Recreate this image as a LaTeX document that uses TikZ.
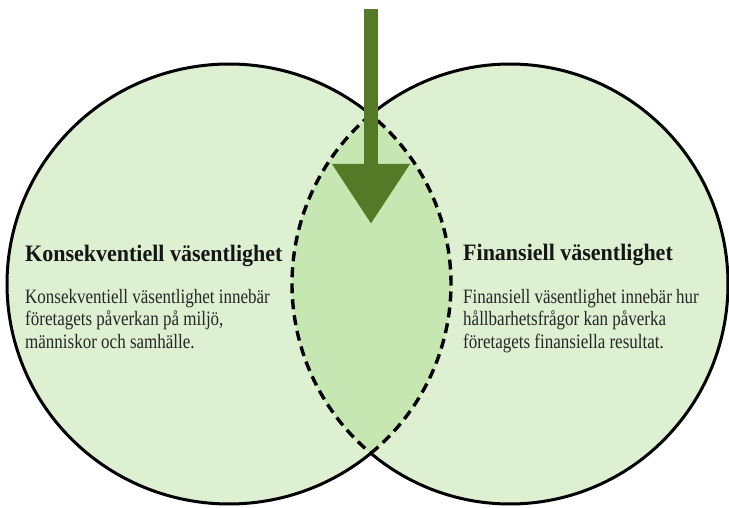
\documentclass[tikz,border=0pt]{standalone}
\usepackage{fontspec}
\setmainfont{Liberation Serif}
\usetikzlibrary{arrows.meta}
\definecolor{circfill}{HTML}{DDF0D2}
\definecolor{lensfill}{HTML}{C6E7B2}
\definecolor{arrowgreen}{HTML}{557A27}
\definecolor{headcol}{HTML}{151515}
\definecolor{bodycol}{HTML}{262626}
\newcommand{\tallhead}[1]{\scalebox{1}[1.07]{#1}}
\newcommand{\tallbody}[1]{\scalebox{1}[1.2]{#1}}
\tikzset{
  x=1pt, y=1pt,
  outline/.style={draw=black, line width=3pt, line cap=round},
  dashline/.style={draw=black, line width=3.4pt, dash pattern=on 10pt off 6pt},
  headtext/.style={anchor=base west, inner sep=0pt, text=headcol, font=\fontsize{22}{26}\selectfont\bfseries},
  bodytext/.style={anchor=base west, inner sep=0pt, text=bodycol, font=\fontsize{17}{22}\selectfont},
  bigarrow/.style={draw=arrowgreen, line width=14pt, -{Triangle[width=74pt,length=60pt]}, arrowgreen}
}
\begin{document}
\begin{tikzpicture}
\useasboundingbox (0,0) rectangle (729,507);
\coordinate (L) at (229,223);
\coordinate (R) at (510,223);
% fills
\fill[circfill] (L) ellipse[x radius=222, y radius=220];
\fill[circfill] (R) ellipse[x radius=218, y radius=220];
\begin{scope}
  \clip (L) ellipse[x radius=222, y radius=220];
  \fill[lensfill] (R) ellipse[x radius=218, y radius=220];
\end{scope}
% outer solid arcs
\draw[outline] ([shift={(50.3:222 and 220)}]L) arc[start angle=50.3, end angle=309.7, x radius=222, y radius=220];
\draw[outline] ([shift={(-129.7:218 and 220)}]R) arc[start angle=-129.7, end angle=129.7, x radius=218, y radius=220];
% dashed lens
\draw[dashline] ([shift={(-50.3:222 and 220)}]L) arc[start angle=-50.3, end angle=50.3, x radius=222, y radius=220];
\draw[dashline] ([shift={(129.7:218 and 220)}]R) arc[start angle=129.7, end angle=230.3, x radius=218, y radius=220];
% texts
\node[headtext] (lhead) at (25,246) {\tallhead{Konsekventiell väsentlighet}};
\node[bodytext] (lbody1) at (25,204) {\tallbody{Konsekventiell väsentlighet innebär}};
\node[bodytext] (lbody2) at (25,181.5) {\tallbody{företagets påverkan på miljö,}};
\node[bodytext] (lbody3) at (25,159) {\tallbody{människor och samhälle.}};
\node[headtext] (rhead) at (463,247) {\tallhead{Finansiell väsentlighet}};
\node[bodytext] (rbody1) at (463,204) {\tallbody{Finansiell väsentlighet innebär hur}};
\node[bodytext] (rbody2) at (463,181.5) {\tallbody{hållbarhetsfrågor kan påverka}};
\node[bodytext] (rbody3) at (463,159) {\tallbody{företagets finansiella resultat.}};
% arrow
\coordinate (arrowtop) at (371,498);
\coordinate (arrowtip) at (371,283);
\draw[bigarrow] (arrowtop) -- (arrowtip);
\end{tikzpicture}
\end{document}
